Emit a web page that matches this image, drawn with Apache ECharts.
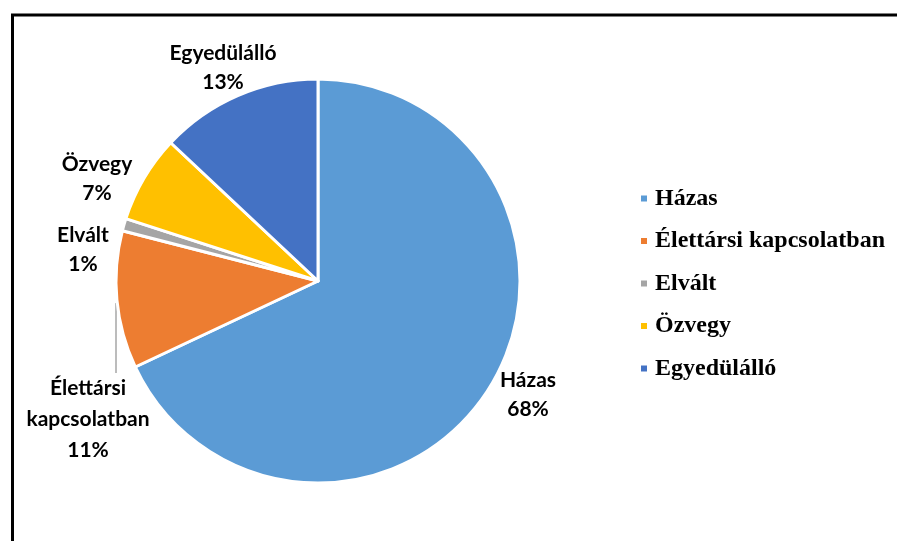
<!DOCTYPE html>
<html>
<head>
<meta charset="utf-8">
<script src="https://cdn.jsdelivr.net/npm/echarts@6/dist/echarts.min.js"></script>
<style>
  html, body { margin: 0; padding: 0; background: #fff; }
</style>
</head>
<body>
<div id="chart" style="width: 897px; height: 541px;"></div>
<script>
// csaladi allapot megoszlasa
var categories = ["Házas", "Élettársi kapcsolatban", "Elvált", "Özvegy", "Egyedülálló"];
var shares = [68, 11, 1, 7, 13];
var labelNames = ["Házas", "Élettársi\nkapcsolatban", "Elvált", "Özvegy", "Egyedülálló"];
var colors = ["#5B9BD5", "#ED7D31", "#A5A5A5", "#FFC000", "#4472C4"];

// hova kerulnek a feliratok
var labelPos = [[528, 395], [88, 419], [83, 250], [97, 179], [223, 68]];

var myChart = echarts.init(document.getElementById("chart"));

var pieData = [];
for (var i = 0; i < categories.length; i++) {
  pieData.push({
    name: categories[i],
    value: shares[i],
    itemStyle: { color: colors[i] },
    label: {
      formatter: labelNames[i] + "\n{d}%",
      lineHeight: i === 1 ? 31 : 29
    },
    labelLine: { show: i === 1 }
  });
}

var option = {
  animation: false,
  graphic: [
    {
      type: "rect",
      shape: { x: 12.5, y: 15, width: 900, height: 560 },
      style: { fill: "none", stroke: "#000", lineWidth: 3 },
      silent: true
    }
  ],
  legend: {
    orient: "vertical",
    left: 639,
    top: 186.5,
    padding: 0,
    icon: "rect",
    itemWidth: 8,
    itemHeight: 8,
    itemGap: 18.5,
    data: categories,
    textStyle: {
      fontFamily: "Liberation Serif",
      fontWeight: "bold",
      fontSize: 24,
      lineHeight: 24,
      color: "#000",
      padding: [0, 0, 0, 2]
    }
  },
  series: [
    {
      type: "pie",
      center: [318, 281],
      radius: 202,
      startAngle: 90,
      clockwise: true,
      avoidLabelOverlap: false,
      itemStyle: { borderColor: "#fff", borderWidth: 3 },
      label: {
        show: true,
        position: "outside",
        fontFamily: "Lato",
        fontWeight: "bold",
        fontSize: 21,
        color: "#000",
        align: "center"
      },
      labelLine: {
        lineStyle: { color: "#A6A6A6", width: 1.5 }
      },
      labelLayout: function (params) {
        var p = labelPos[params.dataIndex];
        var res = { x: p[0], y: p[1], align: "center", verticalAlign: "middle" };
        if (params.dataIndex === 1) {
          res.labelLinePoints = [[116, 303], [116, 340], [116, 373]];
        }
        return res;
      },
      data: pieData
    }
  ]
};
myChart.setOption(option);
</script>
</body>
</html>
